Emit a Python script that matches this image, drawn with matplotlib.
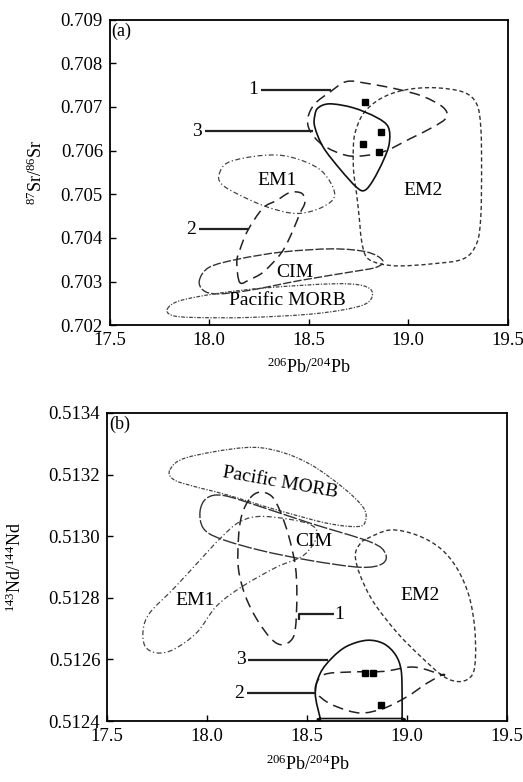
import matplotlib
matplotlib.use('Agg')
import matplotlib.pyplot as plt
import numpy as np
from matplotlib.path import Path
from matplotlib.patches import PathPatch

plt.rcParams['font.family'] = ['Liberation Serif', 'DejaVu Serif']
plt.rcParams['mathtext.fontset'] = 'custom'
plt.rcParams['mathtext.rm'] = 'Liberation Serif'
plt.rcParams['mathtext.default'] = 'regular'

# ---- (a) 87Sr/86Sr vs 206Pb/204Pb ----
a_em1_x = [18.05, 18.10, 18.27, 18.41, 18.56, 18.63, 18.57, 18.44, 18.29, 18.14, 18.06]
a_em1_y = [0.70547, 0.70574, 0.70589, 0.70585, 0.70555, 0.70501, 0.70471, 0.70456, 0.70471, 0.70501, 0.70524]

a_cim_x = [17.95, 18.00, 18.15, 18.37, 18.62, 18.79, 18.87, 18.84, 18.71, 18.46, 18.20, 18.04, 17.97]
a_cim_y = [0.70303, 0.70333, 0.70352, 0.70368, 0.70375, 0.70368, 0.70349, 0.70333, 0.70322, 0.70303, 0.70280, 0.70272, 0.70280]

a_morb_x = [17.79, 17.85, 18.04, 18.29, 18.62, 18.77, 18.82, 18.77, 18.54, 18.20, 17.92, 17.81]
a_morb_y = [0.70238, 0.70256, 0.70273, 0.70286, 0.70295, 0.70291, 0.70273, 0.70246, 0.70227, 0.70218, 0.70218, 0.70223]

a_em2_x = [18.723, 18.731, 18.773, 18.857, 18.974, 19.125, 19.276, 19.343, 19.364, 19.368, 19.364,
           19.343, 19.276, 19.125, 18.957, 18.857, 18.790, 18.765, 18.753, 18.740, 18.726]
a_em2_y = [0.70593, 0.70638, 0.70684, 0.70718, 0.70738, 0.70744, 0.70734, 0.70707, 0.70654, 0.70562, 0.70448,
           0.70387, 0.70352, 0.70341, 0.70336, 0.70341, 0.70356, 0.70394, 0.70448, 0.70501, 0.70547]

a_f1_x = [18.606, 18.689, 18.790, 18.941, 19.074, 19.175, 19.192, 19.125, 19.008, 18.890, 18.790, 18.689,
          18.572, 18.505, 18.496, 18.530]
a_f1_y = [0.70734, 0.70758, 0.70754, 0.70741, 0.70724, 0.70699, 0.70676, 0.70654, 0.70627, 0.70600, 0.70589,
          0.70589, 0.70612, 0.70646, 0.70676, 0.70707]

a_f2_x = [18.153, 18.138, 18.153, 18.193, 18.269, 18.339, 18.405, 18.465, 18.480, 18.455, 18.420, 18.379,
          18.339, 18.269, 18.204]
a_f2_y = [0.70298, 0.70344, 0.70372, 0.70417, 0.70468, 0.70486, 0.70504, 0.70502, 0.70481, 0.70456, 0.70417,
          0.70378, 0.70353, 0.70321, 0.70305]

a_f3_x = [18.547, 18.606, 18.723, 18.840, 18.899, 18.904, 18.874, 18.823, 18.781, 18.740, 18.656, 18.572,
          18.530, 18.530]
a_f3_y = [0.70698, 0.70707, 0.70698, 0.70676, 0.70654, 0.70616, 0.70577, 0.70532, 0.70509, 0.70516, 0.70558,
          0.70608, 0.70654, 0.70680]

a_samples_x = [18.78, 18.865, 18.77, 18.852]
a_samples_y = [0.70711, 0.70642, 0.70614, 0.70596]

# leader lines: (label, label x, label y, line xs, line ys)
a_leaders = [('1', 18.22, 0.70739, [18.26, 18.61], [0.70739, 0.70739]),
             ('3', 17.94, 0.70644, [17.98, 18.52], [0.70644, 0.70644]),
             ('2', 17.91, 0.70420, [17.95, 18.20], [0.70420, 0.70420])]

a_names = [('EM1', 18.34, 0.70532, 0), ('EM2', 19.075, 0.70509, 0),
           ('CIM', 18.43, 0.70322, 0), ('Pacific MORB', 18.39, 0.70257, 0)]

# ---- (b) 143Nd/144Nd vs 206Pb/204Pb ----
b_morb_x = [17.814, 17.897, 18.181, 18.348, 18.515, 18.682, 18.782, 18.790, 18.749, 18.598, 18.348, 18.098,
            17.931, 17.831]
b_morb_y = [0.513216, 0.513255, 0.513287, 0.513277, 0.513233, 0.513156, 0.513091, 0.513047, 0.513031,
            0.513042, 0.513085, 0.513134, 0.513162, 0.513184]

b_cim_x = [17.964, 17.997, 18.081, 18.265, 18.515, 18.816, 18.891, 18.874, 18.765, 18.515, 18.265, 18.064, 17.981]
b_cim_y = [0.513080, 0.513123, 0.513132, 0.513096, 0.513042, 0.512981, 0.512943, 0.512910, 0.512899,
           0.512921, 0.512954, 0.512992, 0.513025]

b_em1_x = [17.689, 17.680, 17.714, 17.831, 17.948, 18.064, 18.164, 18.282, 18.498, 18.549, 18.482, 18.348,
           18.181, 18.048, 17.948, 17.831, 17.747]
b_em1_y = [0.512643, 0.512697, 0.512752, 0.512829, 0.512911, 0.512992, 0.513047, 0.513064, 0.513042,
           0.513003, 0.512938, 0.512900, 0.512839, 0.512774, 0.512687, 0.512632, 0.512621]

b_em2_x = [18.799, 18.916, 19.049, 19.166, 19.250, 19.308, 19.336, 19.341, 19.325, 19.266, 19.183, 19.066,
           18.949, 18.832, 18.765, 18.740, 18.765]
b_em2_y = [0.512992, 0.513020, 0.513003, 0.512960, 0.512894, 0.512807, 0.512708, 0.512610, 0.512550,
           0.512528, 0.512544, 0.512610, 0.512687, 0.512785, 0.512872, 0.512938, 0.512976]

b_f1_x = [18.215, 18.265, 18.323, 18.365, 18.406, 18.440, 18.448, 18.440, 18.415, 18.365, 18.315, 18.248,
          18.190, 18.156, 18.156, 18.173]
b_f1_y = [0.513124, 0.513143, 0.513129, 0.513080, 0.513003, 0.512905, 0.512807, 0.512697, 0.512659,
          0.512648, 0.512670, 0.512730, 0.512807, 0.512894, 0.512992, 0.513069]

# repeated vertices are corners
b_f2_x = [18.540, 18.582, 18.715, 18.882, 19.032, 19.174, 19.174, 19.099, 18.999, 18.882, 18.765, 18.649, 18.574]
b_f2_y = [0.512506, 0.512550, 0.512559, 0.512561, 0.512575, 0.512550, 0.512550, 0.512523, 0.512479,
          0.512441, 0.512426, 0.512446, 0.512473]

b_f3_x = [18.565, 18.565, 18.540, 18.565, 18.624, 18.699, 18.799, 18.882, 18.941, 18.969, 18.974,
          18.974, 18.974, 18.770]
b_f3_y = [0.512408, 0.512408, 0.512490, 0.512555, 0.512605, 0.512643, 0.512662, 0.512651, 0.512615,
          0.512566, 0.512490, 0.512408, 0.512408, 0.512408]

b_samples_x = [18.79, 18.83, 18.87]
b_samples_y = [0.512555, 0.512555, 0.512451]

b_leaders = [('1', 18.66, 0.512747, [18.457, 18.457, 18.632], [0.512727, 0.512747, 0.512747]),
             ('3', 18.17, 0.512599, [18.205, 18.606], [0.512599, 0.512599]),
             ('2', 18.16, 0.512490, [18.198, 18.540], [0.512490, 0.512490])]

b_names = [('Pacific MORB', 18.365, 0.513173, -10), ('CIM', 18.532, 0.512981, 0),
           ('EM1', 17.939, 0.512790, 0), ('EM2', 19.066, 0.512807, 0)]

x_ticks = [17.5, 18.0, 18.5, 19.0, 19.5]
a_yticks = [0.702, 0.703, 0.704, 0.705, 0.706, 0.707, 0.708, 0.709]
b_yticks = [0.5124, 0.5126, 0.5128, 0.5130, 0.5132, 0.5134]

# line styles for the outlines
st_em1 = dict(ls=(0, (4, 2, 1, 2)), lw=0.9, color='#444444')
st_em2 = dict(ls=(0, (3, 2)), lw=1.0, color='#333333')
st_cim = dict(ls=(0, (6, 1.5)), lw=1.0, color='#333333')
st_morb = dict(ls=(0, (3, 1.2, 1, 1.2)), lw=0.9, color='#444444')
st_f1 = dict(ls=(0, (7, 4)), lw=1.1, color='#222222')
st_f2 = dict(ls=(0, (7, 4)), lw=1.1, color='#222222')
st_f3 = dict(ls='-', lw=1.2, color='#111111')


def closed_curve(xs, ys):
    # closed Catmull-Rom curve through the points, as cubic Bezier segments
    p = np.column_stack([xs, ys]).astype(float)
    n = len(p)
    verts = [p[0]]
    codes = [Path.MOVETO]
    for i in range(n):
        p0, p1, p2, p3 = p[i - 1], p[i], p[(i + 1) % n], p[(i + 2) % n]
        verts += [p1 + (p2 - p0) / 6, p2 - (p3 - p1) / 6, p2]
        codes += [Path.CURVE4] * 3
    return Path(verts, codes)


def outline(ax, xs, ys, style):
    ax.add_patch(PathPatch(closed_curve(xs, ys), fill=False, **style))


def setup(ax, yticks, fmt, ylabel, tag):
    ax.set_xlim(17.5, 19.5)
    ax.set_ylim(yticks[0], yticks[-1])
    ax.set_xticks(x_ticks)
    ax.set_xticklabels(['{:.1f}'.format(t) for t in x_ticks])
    ax.set_yticks(yticks)
    ax.set_yticklabels([fmt.format(t) for t in yticks])
    ax.tick_params(direction='in', length=4, width=1.0, labelsize=13.5, pad=5,
                   top=False, right=False)
    for s in ax.spines.values():
        s.set_linewidth(1.3)
    ax.set_xlabel(r'$^{206}$Pb/$^{204}$Pb', fontsize=13)
    ax.set_ylabel(ylabel, fontsize=13)
    ax.text(0.004, 0.99, tag, transform=ax.transAxes, ha='left', va='top', fontsize=13)


def leaders(ax, items):
    for lab, lx, ly, xs, ys in items:
        ax.plot(xs, ys, color='#222222', lw=1.6, solid_capstyle='butt')
        ax.text(lx, ly, lab, ha='center', va='center', fontsize=14)


def names(ax, items):
    for lab, x, y, rot in items:
        ax.text(x, y, lab, ha='center', va='center', fontsize=14, rotation=rot)


fig = plt.figure(figsize=(5.23, 7.82), dpi=100)

ax = fig.add_axes([0.210, 0.584, 0.761, 0.391])
outline(ax, a_em1_x, a_em1_y, st_em1)
outline(ax, a_cim_x, a_cim_y, st_cim)
outline(ax, a_morb_x, a_morb_y, st_morb)
outline(ax, a_em2_x, a_em2_y, st_em2)
outline(ax, a_f1_x, a_f1_y, st_f1)
outline(ax, a_f2_x, a_f2_y, st_f2)
outline(ax, a_f3_x, a_f3_y, st_f3)
ax.plot(a_samples_x, a_samples_y, 's', color='black', ms=4)
leaders(ax, a_leaders)
names(ax, a_names)
setup(ax, a_yticks, '{:.3f}', r'$^{87}$Sr/$^{86}$Sr', '(a)')
ax.xaxis.set_label_coords(0.5, -0.105)
ax.yaxis.set_label_coords(-0.16, 0.5)

ax2 = fig.add_axes([0.205, 0.078, 0.765, 0.394])
outline(ax2, b_morb_x, b_morb_y, st_morb)
outline(ax2, b_cim_x, b_cim_y, dict(st_cim, ls=(0, (10, 1.5))))
outline(ax2, b_em1_x, b_em1_y, st_em1)
outline(ax2, b_em2_x, b_em2_y, st_em2)
outline(ax2, b_f1_x, b_f1_y, st_f1)
outline(ax2, b_f2_x, b_f2_y, st_f2)
outline(ax2, b_f3_x, b_f3_y, st_f3)
ax2.plot(b_samples_x, b_samples_y, 's', color='black', ms=4)
leaders(ax2, b_leaders)
names(ax2, b_names)
setup(ax2, b_yticks, '{:.4f}', r'$^{143}$Nd/$^{144}$Nd', '(b)')
ax2.xaxis.set_label_coords(0.5, -0.11)
ax2.yaxis.set_label_coords(-0.205, 0.5)

fig.savefig('out.png', dpi=100)
